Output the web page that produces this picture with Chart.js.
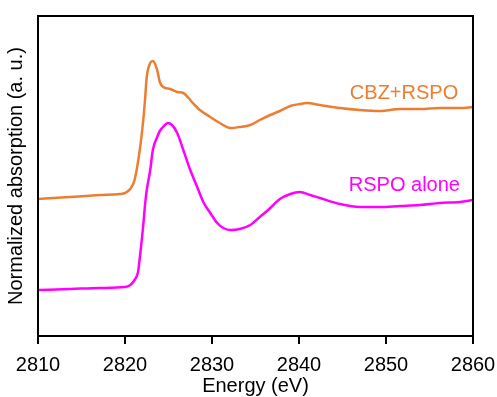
<!DOCTYPE html>
<html>
<head>
<meta charset="utf-8">
<script src="https://cdn.jsdelivr.net/npm/chart.js@4/dist/chart.umd.min.js"></script>
<style>
  html, body { margin: 0; padding: 0; background: #fff; }
  #wrap { width: 497px; height: 397px; }
</style>
</head>
<body>
<div id="wrap"><canvas id="c"></canvas></div>
<script>
// Energy (eV) and normalized absorption (a.u.)
const cbzEnergy = [2810.0, 2813.7, 2817.1, 2819.4, 2820.0, 2820.6, 2821.1, 2821.7, 2822.1, 2822.3,
  2822.5, 2822.9, 2823.2, 2823.7, 2824.0, 2824.4, 2825.2, 2826.0, 2826.7, 2827.2,
  2827.8, 2828.6, 2829.8, 2830.9, 2832.1, 2833.2, 2834.4, 2835.5, 2836.7, 2837.8,
  2839.0, 2840.1, 2840.9, 2842.4, 2844.7, 2847.0, 2849.3, 2851.6, 2853.9, 2856.2,
  2858.5, 2860.0];
const cbzAbs = [1.37, 1.39, 1.41, 1.42, 1.43, 1.47, 1.56, 1.86, 2.16, 2.36,
  2.59, 2.73, 2.75, 2.66, 2.54, 2.49, 2.47, 2.44, 2.43, 2.39,
  2.33, 2.26, 2.19, 2.13, 2.08, 2.09, 2.11, 2.16, 2.21, 2.25,
  2.30, 2.32, 2.33, 2.31, 2.28, 2.26, 2.25, 2.27, 2.27, 2.28,
  2.28, 2.29];

const rspoEnergy = [2810.0, 2813.7, 2817.1, 2820.0, 2820.6, 2821.1, 2821.5, 2821.7, 2822.1, 2822.3,
  2822.5, 2822.9, 2823.2, 2823.7, 2824.0, 2824.6, 2824.9, 2825.4, 2826.0, 2826.7,
  2827.5, 2828.3, 2829.0, 2829.8, 2830.6, 2831.3, 2832.1, 2833.2, 2834.4, 2835.5,
  2836.7, 2837.8, 2839.0, 2840.1, 2841.3, 2842.4, 2844.7, 2847.0, 2849.3, 2851.6,
  2853.9, 2856.2, 2858.5, 2860.0];
const rspoAbs = [0.46, 0.47, 0.48, 0.49, 0.51, 0.56, 0.64, 0.78, 1.11, 1.31,
  1.46, 1.66, 1.86, 1.99, 2.05, 2.11, 2.13, 2.11, 2.03, 1.86,
  1.66, 1.49, 1.34, 1.23, 1.13, 1.08, 1.06, 1.07, 1.11, 1.19,
  1.28, 1.37, 1.42, 1.44, 1.41, 1.38, 1.32, 1.29, 1.29, 1.30,
  1.31, 1.33, 1.34, 1.36];

const xTicks = [2810, 2820, 2830, 2840, 2850, 2860];

const seriesLabels = ['CBZ+RSPO', 'RSPO alone'];
const seriesColors = ['#ED7D31', '#FF00FF'];

const FONT = "'Liberation Sans', Arial, sans-serif";

const toPoints = (xs, ys) => xs.map((x, i) => ({ x, y: ys[i] }));

// frame around plot + in-plot series labels
const frameAndLabels = {
  id: 'frameAndLabels',
  afterDatasetsDraw(chart) {
    const { ctx, chartArea: a, scales } = chart;
    ctx.save();
    ctx.strokeStyle = '#000';
    ctx.lineWidth = 2;
    ctx.strokeRect(a.left, a.top, a.right - a.left, a.bottom - a.top);

    ctx.font = '20px ' + FONT;
    ctx.textAlign = 'right';
    ctx.textBaseline = 'middle';
    const spots = [[2858.3, 2.43], [2858.5, 1.51]];
    spots.forEach((s, i) => {
      ctx.fillStyle = seriesColors[i];
      ctx.fillText(seriesLabels[i], scales.x.getPixelForValue(s[0]), scales.y.getPixelForValue(s[1]));
    });
    ctx.restore();
  }
};

new Chart(document.getElementById('c'), {
  type: 'line',
  data: {
    datasets: [
      {
        label: seriesLabels[0],
        data: toPoints(cbzEnergy, cbzAbs),
        borderColor: seriesColors[0],
        borderWidth: 2.5,
        pointRadius: 0,
        cubicInterpolationMode: 'monotone',
        fill: false,
      },
      {
        label: seriesLabels[1],
        data: toPoints(rspoEnergy, rspoAbs),
        borderColor: seriesColors[1],
        borderWidth: 2.5,
        pointRadius: 0,
        cubicInterpolationMode: 'monotone',
        fill: false,
      }
    ]
  },
  options: {
    responsive: true,
    maintainAspectRatio: false,
    animation: false,
    layout: { padding: { top: 16, left: 0, right: 24, bottom: 0 } },
    plugins: { legend: { display: false }, tooltip: { enabled: false } },
    scales: {
      x: {
        type: 'linear',
        min: 2810,
        max: 2860,
        afterBuildTicks: (s) => { s.ticks = xTicks.map(v => ({ value: v })); },
        afterFit: (s) => { s.height = 61; s.paddingLeft = 0; s.paddingRight = 0; },
        grid: { drawOnChartArea: false, drawTicks: true, tickLength: 8, color: '#000', lineWidth: 2 },
        border: { color: '#000', width: 2 },
        ticks: { color: '#000', font: { family: FONT, size: 20 }, padding: 9, maxRotation: 0,
                 callback: (v) => String(v) },
        title: { display: true, text: 'Energy (eV)', color: '#000',
                 font: { family: FONT, size: 20, lineHeight: 1.1 }, padding: 0 }
      },
      y: {
        min: 0,
        max: 3.2,
        afterFit: (s) => { s.width = 38; s.paddingTop = 0; s.paddingBottom = 0; },
        grid: { display: false },
        border: { color: '#000', width: 2 },
        ticks: { display: false },
        title: { display: true, text: 'Normalized absorption (a. u.)', color: '#000',
                 font: { family: FONT, size: 20 }, padding: { top: 4, bottom: 0 } }
      }
    }
  },
  plugins: [frameAndLabels]
});
</script>
</body>
</html>
